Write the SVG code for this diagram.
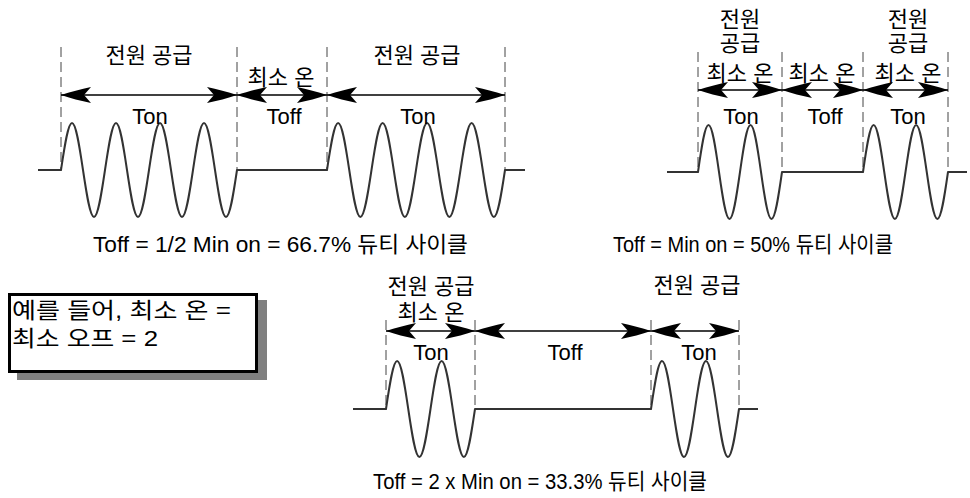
<svg xmlns="http://www.w3.org/2000/svg" width="970" height="498" viewBox="0 0 970 498">
<style>
.w{fill:none;stroke:#333;stroke-width:2;stroke-linejoin:round}
.d{fill:none;stroke:#444;stroke-width:1;stroke-dasharray:10 5}
.a{fill:none;stroke:#000;stroke-width:1.3;marker-start:url(#ah);marker-end:url(#ah)}
text{font-family:"Liberation Sans","Noto Sans CJK KR",sans-serif;font-size:22px;fill:#000;text-anchor:middle}
.l{text-anchor:start}
</style>
<defs>
<marker id="ah" viewBox="-31 -9 32 18" refX="0" refY="0" markerWidth="32" markerHeight="18" orient="auto-start-reverse" markerUnits="userSpaceOnUse">
<path d="M0,0 C-9,-3 -20,-6 -30,-8 L-23,0 L-30,8 C-20,6 -9,3 0,0 Z" fill="#000"/>
</marker>
</defs>

<g id="connectors">
<g id="dashes">
<path class="d" d="M61,47V170M237,47V170M327,47V170M505,47V170"/>
<path class="d" d="M698,52V172M782,52V172M863,52V172M948,52V172"/>
<path class="d" d="M386,320V409M475,320V409M651,320V409M739,320V409"/>
</g>
<g id="arrows">
<path class="a" d="M61,95H237"/>
<path class="a" d="M237,95H327"/>
<path class="a" d="M327,95H505"/>
<path class="a" d="M698,90H782"/>
<path class="a" d="M782,90H863"/>
<path class="a" d="M863,90H948"/>
<path class="a" d="M386,331H475"/>
<path class="a" d="M475,331H651"/>
<path class="a" d="M651,331H739"/>
</g>
</g>

<g id="wave-top-left">
<path class="w" d="M38,170H61
c3.59,-24.08 7.02,-47 11,-47 c3.98,0 7.41,22.92 11,47 c3.59,24.08 7.02,47 11,47 c3.98,0 7.41,-22.92 11,-47
c3.59,-24.08 7.02,-47 11,-47 c3.98,0 7.41,22.92 11,47 c3.59,24.08 7.02,47 11,47 c3.98,0 7.41,-22.92 11,-47
c3.59,-24.08 7.02,-47 11,-47 c3.98,0 7.41,22.92 11,47 c3.59,24.08 7.02,47 11,47 c3.98,0 7.41,-22.92 11,-47
c3.59,-24.08 7.02,-47 11,-47 c3.98,0 7.41,22.92 11,47 c3.59,24.08 7.02,47 11,47 c3.98,0 7.41,-22.92 11,-47
H327
c3.63,-24.08 7.10,-47 11.125,-47 c4.03,0 7.50,22.92 11.125,47 c3.63,24.08 7.10,47 11.125,47 c4.03,0 7.50,-22.92 11.125,-47
c3.63,-24.08 7.10,-47 11.125,-47 c4.03,0 7.50,22.92 11.125,47 c3.63,24.08 7.10,47 11.125,47 c4.03,0 7.50,-22.92 11.125,-47
c3.63,-24.08 7.10,-47 11.125,-47 c4.03,0 7.50,22.92 11.125,47 c3.63,24.08 7.10,47 11.125,47 c4.03,0 7.50,-22.92 11.125,-47
c3.63,-24.08 7.10,-47 11.125,-47 c4.03,0 7.50,22.92 11.125,47 c3.63,24.08 7.10,47 11.125,47 c4.03,0 7.50,-22.92 11.125,-47
H525"/>
</g>
<g id="labels-top-left">
<text x="149" y="63">전원 공급</text>
<text x="150" y="124">Ton</text>
<text x="281" y="85">최소 온</text>
<text x="284" y="124">Toff</text>
<text x="417" y="63">전원 공급</text>
<text x="418" y="124">Ton</text>
<text x="280.5" y="252" font-size="21.5" textLength="375" lengthAdjust="spacingAndGlyphs">Toff = 1/2 Min on = 66.7% 듀티 사이클</text>
</g>

<g id="wave-top-right">
<path class="w" d="M667,172H698
c3.42,-24.08 6.70,-47 10.5,-47 c3.80,0 7.08,22.92 10.5,47 c3.42,24.08 6.70,47 10.5,47 c3.80,0 7.08,-22.92 10.5,-47
c3.42,-24.08 6.70,-47 10.5,-47 c3.80,0 7.08,22.92 10.5,47 c3.42,24.08 6.70,47 10.5,47 c3.80,0 7.08,-22.92 10.5,-47
H863
c3.47,-24.08 6.78,-47 10.625,-47 c3.85,0 7.16,22.92 10.625,47 c3.47,24.08 6.78,47 10.625,47 c3.85,0 7.16,-22.92 10.625,-47
c3.47,-24.08 6.78,-47 10.625,-47 c3.85,0 7.16,22.92 10.625,47 c3.47,24.08 6.78,47 10.625,47 c3.85,0 7.16,-22.92 10.625,-47
H967"/>
</g>
<g id="labels-top-right">
<text x="740" y="27">전원</text>
<text x="740" y="51">공급</text>
<text x="740" y="81">최소 온</text>
<text x="741" y="124">Ton</text>
<text x="822" y="81">최소 온</text>
<text x="825" y="124">Toff</text>
<text x="908" y="27">전원</text>
<text x="908" y="51">공급</text>
<text x="908" y="81">최소 온</text>
<text x="908" y="124">Ton</text>
<text x="753" y="252" font-size="20.5" textLength="280" lengthAdjust="spacingAndGlyphs">Toff = Min on = 50% 듀티 사이클</text>
</g>

<g id="wave-bottom">
<path class="w" d="M353,409H386
c3.63,-24.59 7.10,-48 11.125,-48 c4.03,0 7.50,23.41 11.125,48 c3.63,24.59 7.10,48 11.125,48 c4.03,0 7.50,-23.41 11.125,-48
c3.63,-24.59 7.10,-48 11.125,-48 c4.03,0 7.50,23.41 11.125,48 c3.63,24.59 7.10,48 11.125,48 c4.03,0 7.50,-23.41 11.125,-48
H651
c3.59,-24.59 7.02,-48 11,-48 c3.98,0 7.41,23.41 11,48 c3.59,24.59 7.02,48 11,48 c3.98,0 7.41,-23.41 11,-48
c3.59,-24.59 7.02,-48 11,-48 c3.98,0 7.41,23.41 11,48 c3.59,24.59 7.02,48 11,48 c3.98,0 7.41,-23.41 11,-48
H758"/>
</g>
<g id="labels-bottom">
<text x="431" y="294">전원 공급</text>
<text x="431" y="320">최소 온</text>
<text x="431" y="360">Ton</text>
<text x="565" y="360">Toff</text>
<text x="697" y="293">전원 공급</text>
<text x="699" y="360">Ton</text>
<text x="540" y="489" font-size="21" textLength="334" lengthAdjust="spacingAndGlyphs">Toff = 2 x Min on = 33.3% 듀티 사이클</text>
</g>

<g id="note-box">
<rect x="17" y="300" width="250" height="80" fill="#808080"/>
<rect x="9.5" y="294.5" width="247" height="77" fill="#fff" stroke="#000" stroke-width="3"/>
<text class="l" x="12" y="318" textLength="219" lengthAdjust="spacingAndGlyphs">예를 들어, 최소 온 =</text>
<text class="l" x="12" y="346" textLength="146" lengthAdjust="spacingAndGlyphs">최소 오프 = 2</text>
</g>
</svg>
